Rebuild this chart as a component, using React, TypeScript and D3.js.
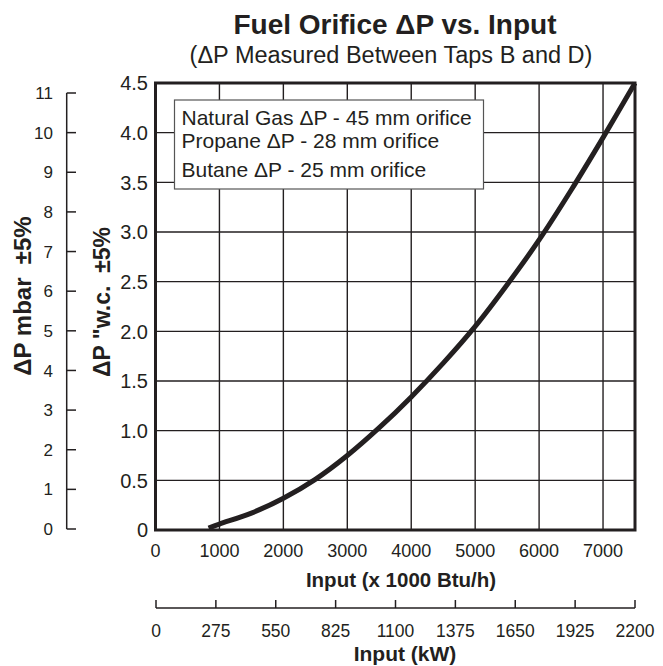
import React from 'react';
import * as d3 from 'd3';

// ---- data ----
const inputBtu = [830, 1000, 1500, 2000, 2500, 3000, 3500, 4000, 4500, 5000, 5500, 6000, 6500, 7000, 7500];
const deltaPwc = [0.02, 0.06, 0.17, 0.32, 0.51, 0.75, 1.03, 1.34, 1.68, 2.05, 2.47, 2.92, 3.42, 3.95, 4.5];

const btuTicks = [0, 1000, 2000, 3000, 4000, 5000, 6000, 7000];
const btuGrid = [1000, 2000, 3000, 4000, 5000, 6000, 7000];
const wcTicks = [0, 0.5, 1.0, 1.5, 2.0, 2.5, 3.0, 3.5, 4.0, 4.5];
const wcGrid = [0.5, 1.0, 1.5, 2.0, 2.5, 3.0, 3.5, 4.0];
const mbarTicks = [0, 1, 2, 3, 4, 5, 6, 7, 8, 9, 10, 11];
const kwTicks = [0, 275, 550, 825, 1100, 1375, 1650, 1925, 2200];
const legendLines = [
  'Natural Gas \u0394P - 45 mm orifice',
  'Propane \u0394P - 28 mm orifice',
  'Butane \u0394P - 25 mm orifice',
];

const title = 'Fuel Orifice \u0394P vs. Input';
const subtitle = '(\u0394P Measured Between Taps B and D)';
const xTitle = 'Input (x 1000 Btu/h)';
const kwTitle = 'Input (kW)';
const mbarTitle = '\u0394P mbar  \u00b15%';
const wcTitle = '\u0394P "w.c.  \u00b15%';

const INK = '#231f20';
const FONT = '"Liberation Sans", Arial, Helvetica, sans-serif';

export default function App() {
  const W = 663, H = 666;
  const x = d3.scaleLinear().domain([0, 7500]).range([155.5, 635]);
  const y = d3.scaleLinear().domain([0, 4.5]).range([530, 83]);
  const yMbar = d3.scaleLinear().domain([0, 11]).range([529, 93]);
  const xKw = d3.scaleLinear().domain([0, 2200]).range([156, 635]);

  const pts: [number, number][] = inputBtu.map((v, i) => [v, deltaPwc[i]]);
  const line = d3
    .line<[number, number]>()
    .x((d) => x(d[0]))
    .y((d) => y(d[1]))
    .curve(d3.curveCatmullRom.alpha(0.5));

  const fmtWc = (v: number) => (v === 0 ? '0' : v.toFixed(1));
  const kwAxisY = 608;
  const legendY = [125, 148.3, 177];

  return (
    <svg
      width={W}
      height={H}
      style={{ position: 'absolute', left: 0, top: 0, background: '#fff' }}
      fontFamily={FONT}
    >
      <rect x={0} y={0} width={W} height={H} fill="#fff" />
      {/* titles */}
      <text x={395} y={34} textAnchor="middle" fontSize={28} fontWeight="bold" fill={INK}>
        {title}
      </text>
      <text x={391} y={63} textAnchor="middle" fontSize={23.5} fill={INK}>
        {subtitle}
      </text>

      {/* grid */}
      {btuGrid.map((v) => (
        <line key={'gx' + v} x1={x(v)} x2={x(v)} y1={y(0)} y2={y(4.5)} stroke={INK} strokeWidth={1.4} />
      ))}
      {wcGrid.map((v) => (
        <line key={'gy' + v} x1={x(0)} x2={x(7500)} y1={y(v)} y2={y(v)} stroke={INK} strokeWidth={1.4} />
      ))}

      {/* legend box */}
      <rect x={174.5} y={100} width={309} height={89} fill="#fff" stroke="#555" strokeWidth={1.2} />
      {legendLines.map((t, i) => (
        <text key={t} x={181.5} y={legendY[i]} fontSize={21} fill={INK}>
          {t}
        </text>
      ))}

      {/* curve */}
      <path d={line(pts) || ''} fill="none" stroke={INK} strokeWidth={5} strokeLinecap="butt" />

      {/* plot frame */}
      <rect
        x={x(0)}
        y={y(4.5)}
        width={x(7500) - x(0)}
        height={y(0) - y(4.5)}
        fill="none"
        stroke={INK}
        strokeWidth={3}
      />

      {/* w.c. tick labels */}
      {wcTicks.map((v) => (
        <text key={'wc' + v} x={148} y={y(v)} dy="0.36em" textAnchor="end" fontSize={20} fill={INK}>
          {fmtWc(v)}
        </text>
      ))}

      {/* Btu tick labels */}
      {btuTicks.map((v) => (
        <text key={'bt' + v} x={x(v)} y={556.5} textAnchor="middle" fontSize={18} fill={INK}>
          {v}
        </text>
      ))}
      <text x={401} y={586.5} textAnchor="middle" fontSize={20.5} fontWeight="bold" fill={INK}>
        {xTitle}
      </text>

      {/* kW axis */}
      <line x1={xKw(0)} x2={xKw(2200)} y1={kwAxisY} y2={kwAxisY} stroke={INK} strokeWidth={1.5} />
      {kwTicks.map((v) => (
        <g key={'kw' + v}>
          <line x1={xKw(v)} x2={xKw(v)} y1={kwAxisY} y2={kwAxisY - 8} stroke={INK} strokeWidth={1.5} />
          <text x={xKw(v)} y={636.5} textAnchor="middle" fontSize={17.5} fill={INK}>
            {v}
          </text>
        </g>
      ))}
      <text x={405} y={661} textAnchor="middle" fontSize={21} fontWeight="bold" fill={INK}>
        {kwTitle}
      </text>

      {/* mbar axis */}
      <line x1={66.7} x2={66.7} y1={yMbar(11)} y2={yMbar(0)} stroke={INK} strokeWidth={1.5} />
      {mbarTicks.map((v) => (
        <g key={'mb' + v}>
          <line x1={66.7} x2={76} y1={yMbar(v)} y2={yMbar(v)} stroke={INK} strokeWidth={1.5} />
          <text x={53} y={yMbar(v)} dy="0.36em" textAnchor="end" fontSize={17} fill={INK}>
            {v}
          </text>
        </g>
      ))}

      {/* y titles */}
      <text
        transform="translate(31,296) rotate(-90)"
        textAnchor="middle"
        fontSize={24}
        fontWeight="bold"
        fill={INK}
        style={{ whiteSpace: 'pre' }}
      >
        {mbarTitle}
      </text>
      <text
        transform="translate(110,302) rotate(-90)"
        textAnchor="middle"
        fontSize={23}
        fontWeight="bold"
        fill={INK}
        style={{ whiteSpace: 'pre' }}
      >
        {wcTitle}
      </text>
    </svg>
  );
}
